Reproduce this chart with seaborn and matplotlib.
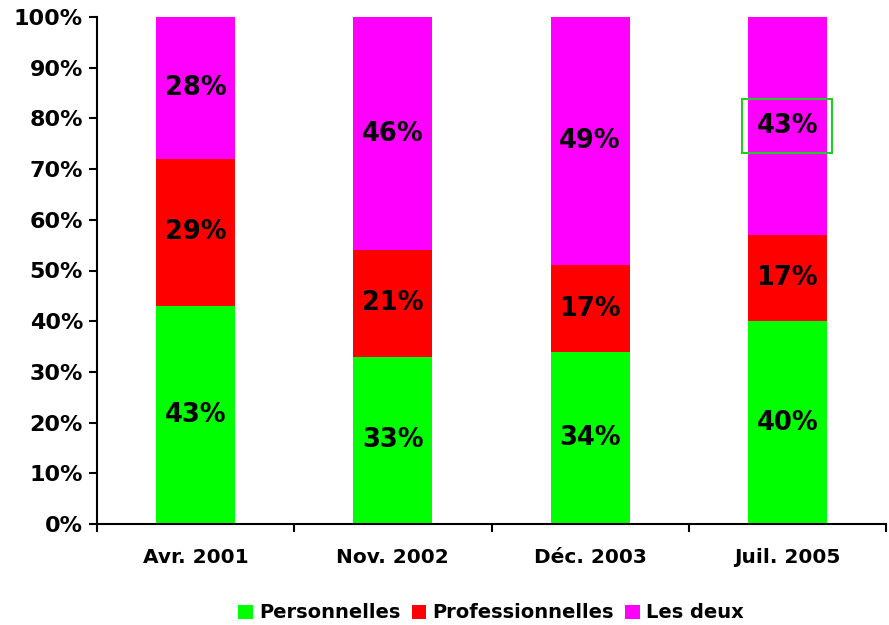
import matplotlib
matplotlib.use("Agg")
import matplotlib.pyplot as plt
from matplotlib.patches import Patch
import seaborn as sns
import pandas as pd
import numpy as np

periods = ["Avr. 2001", "Nov. 2002", "Déc. 2003", "Juil. 2005"]
personnelles = [43, 33, 34, 40]
professionnelles = [29, 21, 17, 17]
les_deux = [28, 46, 49, 43]

series_names = ["Personnelles", "Professionnelles", "Les deux"]
series_colors = ["#00FF00", "#FF0000", "#FF00FF"]
y_ticks = [0, 10, 20, 30, 40, 50, 60, 70, 80, 90, 100]

sns.set_theme(style="white")
plt.rcParams["font.family"] = ["DejaVu Sans"]
plt.rcParams["font.weight"] = "bold"
plt.rcParams["text.color"] = "black"
plt.rcParams["xtick.color"] = "black"
plt.rcParams["ytick.color"] = "black"
plt.rcParams["xtick.labelcolor"] = "black"
plt.rcParams["ytick.labelcolor"] = "black"

fig = plt.figure(figsize=(8.89, 6.25), dpi=100)
ax = fig.add_axes([97 / 889, 1 - 524 / 625, (886 - 97) / 889, (524 - 17) / 625])

df = pd.DataFrame({"period": periods,
                   "Personnelles": personnelles,
                   "Professionnelles": professionnelles,
                   "Les deux": les_deux})

bottom = np.zeros(len(periods))
for name, color in zip(series_names, series_colors):
    vals = df[name].to_numpy(dtype=float)
    sns.barplot(x=df["period"], y=vals, bottom=bottom, color=color,
                width=0.4, ax=ax, saturation=1, linewidth=0)
    for i, (v, b) in enumerate(zip(vals, bottom)):
        kw = {}
        if name == "Les deux" and i == 3:
            kw["bbox"] = dict(boxstyle="square,pad=0.55", fc="none",
                              ec="#22CC22", lw=1.5)
        ax.text(i, b + v / 2, f"{int(v)}%", ha="center", va="center",
                fontsize=18.5, fontweight="bold", color="black", **kw)
    bottom = bottom + vals

ax.set_xlim(-0.5, 3.5)
ax.set_ylim(0, 100)
ax.set_xlabel("")
ax.set_ylabel("")
ax.set_yticks(y_ticks)
ax.set_yticklabels([f"{t}%" for t in y_ticks], fontsize=16, fontweight="bold",
                   color="black")

# category labels centred under bars, tick marks between categories
ax.set_xticks(range(len(periods)))
ax.set_xticklabels(periods, fontsize=14.5, fontweight="bold", color="black")
ax.tick_params(axis="x", which="major", length=0, pad=17)
ax.set_xticks(np.arange(-0.5, len(periods), 1.0), minor=True)
ax.tick_params(axis="x", which="minor", length=6, width=1.5, direction="out",
               color="black", bottom=True)
ax.tick_params(axis="y", length=6, width=1.5, direction="out", color="black",
               left=True, pad=4)

for side in ["top", "right"]:
    ax.spines[side].set_visible(False)
for side in ["left", "bottom"]:
    ax.spines[side].set_color("black")
    ax.spines[side].set_linewidth(1.5)

handles = [Patch(facecolor=c, edgecolor="none", label=n)
           for n, c in zip(series_names, series_colors)]
fig.legend(handles=handles, loc="center", bbox_to_anchor=(491 / 889, 1 - 613 / 625),
           ncol=3, frameon=False, handlelength=0.75, handleheight=0.75,
           handletextpad=0.3, columnspacing=0.6,
           prop={"size": 14, "weight": "bold"}, labelcolor="black")

fig.savefig("out.png", dpi=100, facecolor="white")
